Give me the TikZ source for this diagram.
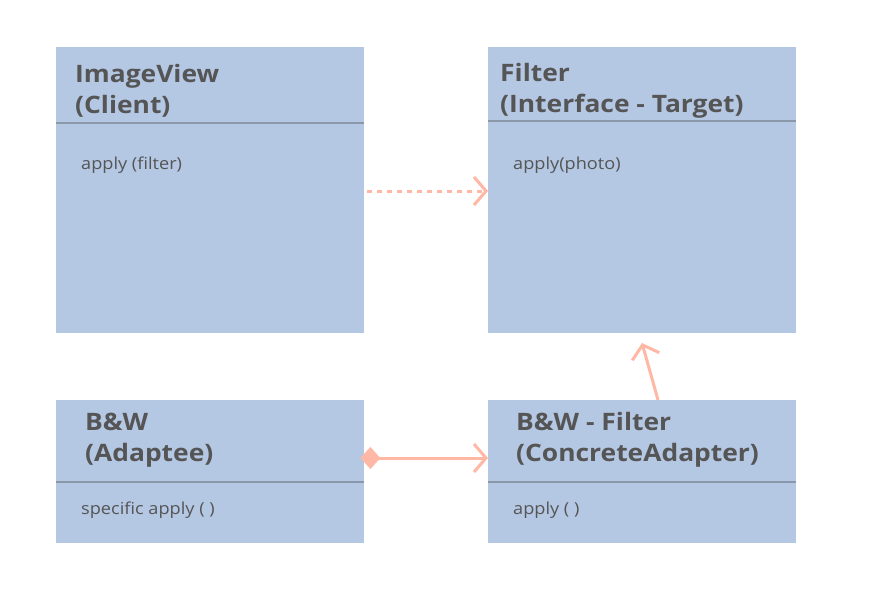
\documentclass[tikz,border=0pt]{standalone}
\usepackage{fontspec}
\setmainfont[FakeStretch=1.1]{Open Sans}
\usetikzlibrary{arrows.meta}
\definecolor{boxfill}{HTML}{B4C7E3}
\definecolor{sepline}{HTML}{8A98AA}
\definecolor{txt}{HTML}{555555}
\definecolor{arr}{HTML}{FFB8A5}
\begin{document}
\begin{tikzpicture}[x=1pt,y=-1pt,
  umlbox/.style={fill=boxfill,draw=none,inner sep=0,anchor=north west},
  title/.style={inner sep=0,anchor=base west,align=left,text=txt,font=\fontsize{24}{31}\selectfont\bfseries},
  body/.style={inner sep=0,anchor=base west,text=txt,font=\fontsize{16.5}{18}\selectfont},
  sep/.style={draw=sepline,line width=1.5pt},
  barb/.tip={Straight Barb[length=12pt,width=28pt,line width=3pt]},
  conn/.style={draw=arr,line width=3pt,-barb}
]
\useasboundingbox (0,0) rectangle (872,590);
\fill[white] (0,0) rectangle (872,590);
% boxes
\node[umlbox,minimum width=308,minimum height=286] (client) at (56,47) {};
\node[umlbox,minimum width=308,minimum height=286] (filter) at (488,47) {};
\node[umlbox,minimum width=308,minimum height=143] (adaptee) at (56,400) {};
\node[umlbox,minimum width=308,minimum height=143] (adapter) at (488,400) {};
% separators
\draw[sep] (56,123) -- (364,123);
\draw[sep] (488,121) -- (796,121);
\draw[sep] (56,482) -- (364,482);
\draw[sep] (488,482) -- (796,482);
% titles
\node[title] (t1) at (75,113) {ImageView\\(Client)};
\node[title] (t2) at (500,112) {Filter\\(Interface - Target)};
\node[title] (t3) at (85,461) {B\&W\\(Adaptee)};
\node[title] (t4) at (516,461) {B\&W - Filter\\(ConcreteAdapter)};
% bodies
\node[body] (b1) at (81,169) {apply (filter)};
\node[body] (b2) at (513,169) {apply(photo)};
\node[body] (b3) at (81,514) {specific apply ( )};
\node[body] (b4) at (513,514) {apply ( )};
% connectors
\coordinate (c1s) at ([xshift=3]client.east |- 0,191);
\coordinate (c1e) at (filter.west |- 0,191);
\draw[conn,dash pattern=on 5pt off 5pt] (c1s) -- (c1e);
\coordinate (c2s) at (adaptee.east |- 0,458);
\coordinate (c2e) at (adapter.west |- 0,458);
\draw[conn,{Diamond[length=20pt,width=22pt,fill=arr,line width=0pt]}-barb] ([xshift=-4]c2s) -- (c2e);
\coordinate (c3s) at (658,400);
\coordinate (c3e) at (642,343);
\draw[conn] (c3s) -- (c3e);
\end{tikzpicture}
\end{document}
